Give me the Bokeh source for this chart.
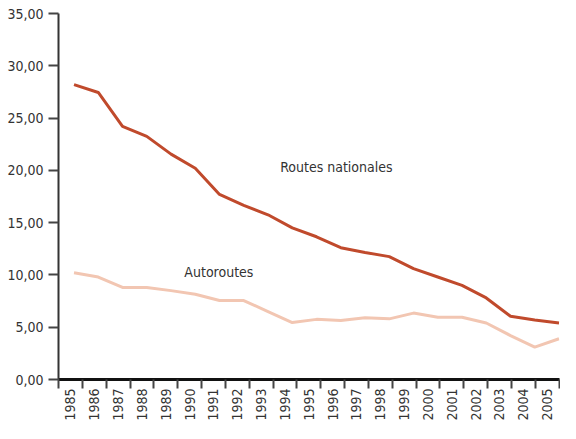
from bokeh.plotting import figure
from bokeh.models import (Range1d, LinearAxis, FixedTicker, CustomJSTickFormatter)
from bokeh.core.properties import value
from bokeh.embed import file_html
from bokeh.resources import INLINE

years = list(range(1985, 2006))
routes_nationales = [28.2, 27.45, 24.2, 23.25, 21.55, 20.2, 17.7, 16.65, 15.75, 14.5,
                     13.65, 12.6, 12.15, 11.75, 10.6, 9.8, 9.0, 7.8, 6.05, 5.7, 5.4]
autoroutes = [10.2, 9.8, 8.8, 8.8, 8.5, 8.15, 7.55, 7.55, 6.5, 5.45,
              5.75, 5.65, 5.9, 5.8, 6.35, 5.95, 5.95, 5.4, 4.2, 3.1, 3.9]
y_ticks = [0, 5, 10, 15, 20, 25, 30, 35]

FONT = "DejaVu Sans Condensed"
TXT = "#333333"

p = figure(width=560, height=423, output_backend="svg", toolbar_location=None,
           x_axis_type=None, y_axis_type=None,
           x_range=Range1d(1984.36, 2005.02), y_range=Range1d(0, 35),
           min_border_left=58, min_border_right=1, min_border_top=13, min_border_bottom=41)
p.outline_line_color = None
p.xgrid.visible = False
p.ygrid.visible = False
p.background_fill_color = "white"
p.border_fill_color = "white"

n = len(years)
p.extra_x_ranges = {"slots": Range1d(0, n + 0.02)}
xaxis = LinearAxis(x_range_name="slots")
xaxis.ticker = FixedTicker(ticks=[i + 0.5 for i in range(n)],
                           minor_ticks=[float(i) for i in range(n + 1)])
xaxis.formatter = CustomJSTickFormatter(code="return String(%d + Math.floor(tick));" % years[0])
xaxis.major_tick_out = 0
xaxis.major_tick_in = 0
xaxis.minor_tick_out = 9
xaxis.minor_tick_in = 0
xaxis.minor_tick_line_width = 2
xaxis.minor_tick_line_color = "#444444"
xaxis.axis_line_width = 3
xaxis.axis_line_color = "#111111"
xaxis.major_label_orientation = 1.5707963
xaxis.major_label_text_font = FONT
xaxis.major_label_text_font_size = "14px"
xaxis.major_label_text_color = TXT
xaxis.major_label_standoff = 0
p.add_layout(xaxis, "below")

yaxis = LinearAxis()
yaxis.ticker = FixedTicker(ticks=y_ticks)
yaxis.formatter = CustomJSTickFormatter(code="return tick.toFixed(2).replace('.', ',');")
yaxis.major_tick_out = 10
yaxis.major_tick_in = 0
yaxis.minor_tick_out = 0
yaxis.major_tick_line_width = 2
yaxis.major_tick_line_color = "#444444"
yaxis.axis_line_width = 2
yaxis.axis_line_color = "#333333"
yaxis.major_label_text_font = FONT
yaxis.major_label_text_font_size = "14px"
yaxis.major_label_text_color = TXT
yaxis.major_label_standoff = 5
p.add_layout(yaxis, "left")

p.line(years, autoroutes, line_color="#f2c6b2", line_width=3)
p.line(years, routes_nationales, line_color="#c04a2c", line_width=3)

p.text(x=[1993.5], y=[20.35], text=["Routes nationales"], text_font=value(FONT),
       text_font_size="14px", text_color=TXT, text_baseline="middle", text_align="left")
p.text(x=[1989.55], y=[10.3], text=["Autoroutes"], text_font=value(FONT),
       text_font_size="14px", text_color=TXT, text_baseline="middle", text_align="left")

open("out.html", "w").write(file_html(p, INLINE))
